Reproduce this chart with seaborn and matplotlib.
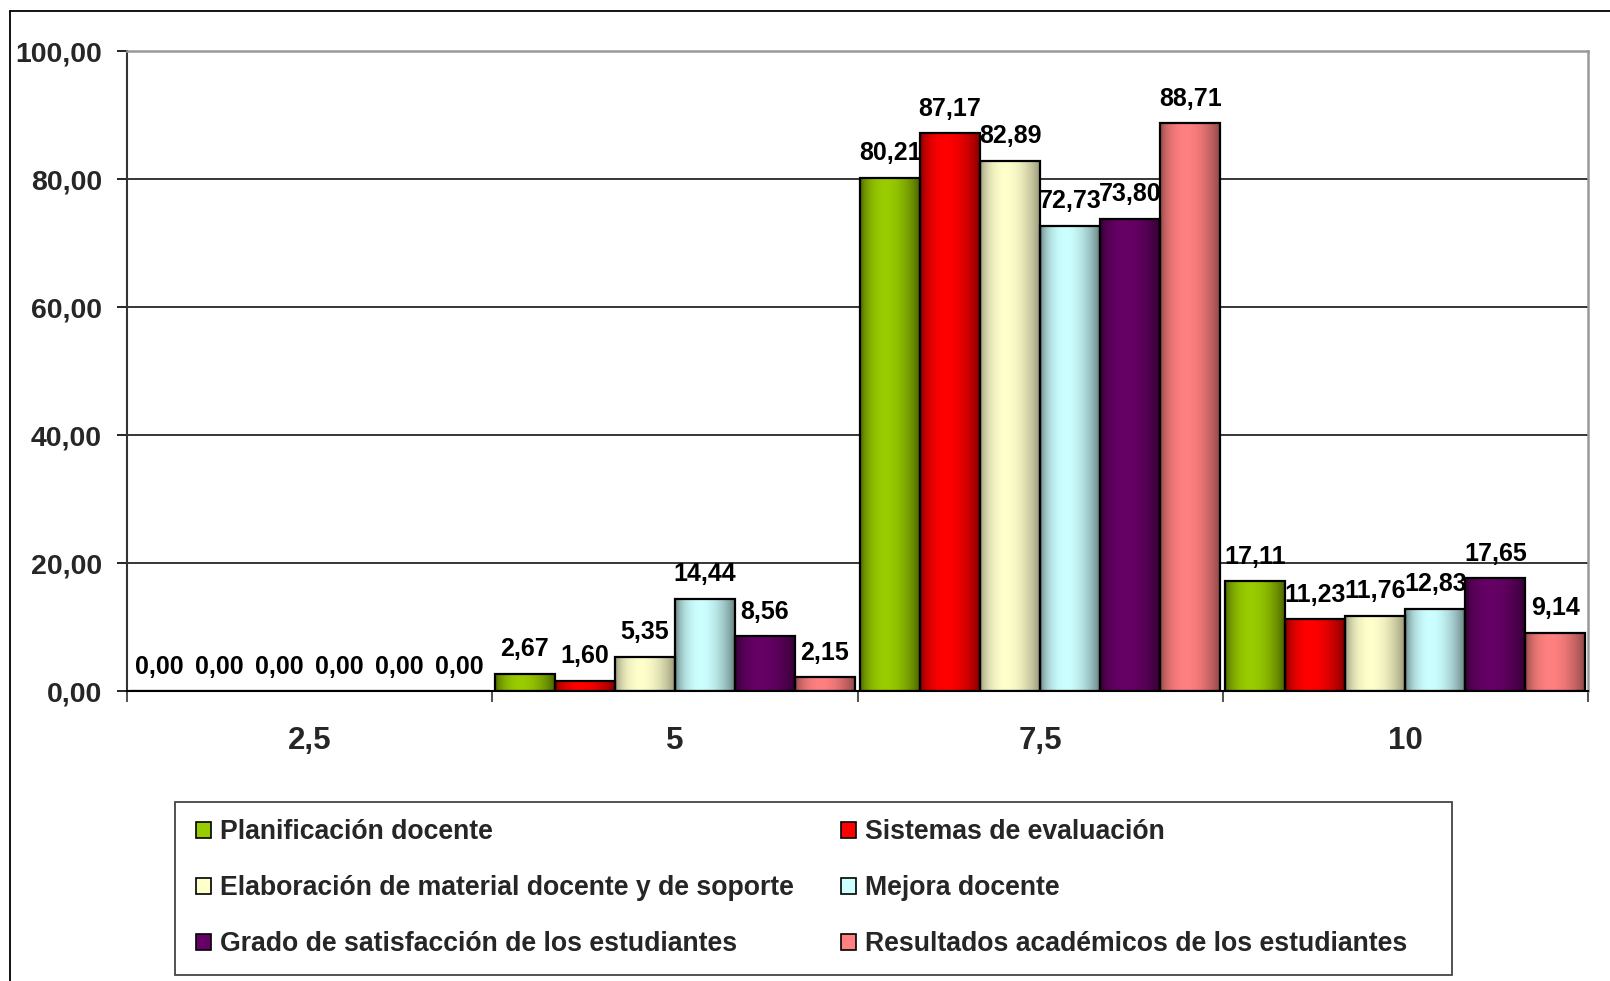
import numpy as np
import pandas as pd
import matplotlib
matplotlib.use("Agg")
import matplotlib.pyplot as plt
import seaborn as sns
from matplotlib.patches import Patch, Rectangle
from matplotlib.lines import Line2D
from matplotlib.ticker import FuncFormatter, FixedLocator
import matplotlib.colors as mcolors

# ---- data ----
categories = ["2,5", "5", "7,5", "10"]
series = ["Planificación docente", "Sistemas de evaluación",
          "Elaboración de material docente y de soporte", "Mejora docente",
          "Grado de satisfacción de los estudiantes",
          "Resultados académicos de los estudiantes"]
planificacion = [0.00, 2.67, 80.21, 17.11]
sistemas = [0.00, 1.60, 87.17, 11.23]
elaboracion = [0.00, 5.35, 82.89, 11.76]
mejora = [0.00, 14.44, 72.73, 12.83]
grado = [0.00, 8.56, 73.80, 17.65]
resultados = [0.00, 2.15, 88.71, 9.14]
colors = ["#99CC00", "#FF0000", "#FFFFCC", "#CCFFFF", "#660066", "#FF8080"]
dark_factor = [0.42, 0.45, 0.55, 0.45, 0.45, 0.5]

values = [planificacion, sistemas, elaboracion, mejora, grado, resultados]
rows = []
for s, vals in zip(series, values):
    for c, v in zip(categories, vals):
        rows.append({"cat": c, "serie": s, "val": v})
df = pd.DataFrame(rows)

sns.set_theme(style="white")
plt.rcParams["font.family"] = ["Liberation Sans", "DejaVu Sans"]
plt.rcParams["font.weight"] = "bold"

W, H = 1610, 981
fig = plt.figure(figsize=(W / 100, H / 100), dpi=100)
fig.patch.set_facecolor("white")
ax = fig.add_axes([127 / W, 1 - 691 / H, (1588 - 127) / W, (691 - 51) / H])

sns.barplot(data=df, x="cat", y="val", hue="serie", order=categories,
            hue_order=series, palette=colors, saturation=1, width=0.986,
            gap=0, edgecolor="black", linewidth=1.6, legend=False, ax=ax,
            errorbar=None)

# gradient fill on each bar
N = 64
t = np.linspace(0, 1, N)
p = np.log(0.5) / np.log(0.42)
f = np.sin(np.pi * t ** p) ** 0.7
for cont, col, dk in zip(ax.containers, colors, dark_factor):
    base = np.array(mcolors.to_rgb(col))
    dark = base * dk
    grad = dark[None, :] * (1 - f[:, None]) + base[None, :] * f[:, None]
    img = grad[None, :, :]
    for bar in cont.patches:
        x0 = bar.get_x()
        w = bar.get_width()
        h = bar.get_height()
        bar.set_facecolor("none")
        bar.set_zorder(3)
        if h > 0:
            ax.imshow(img, extent=(x0, x0 + w, 0, h), aspect="auto",
                      interpolation="bilinear", zorder=2.5)
    ax.bar_label(cont, fmt=lambda v: f"{v:.2f}".replace(".", ","),
                 padding=9, fontsize=18, fontweight="bold", color="black",
                 zorder=5)

ax.set_xlim(-0.5, 3.5)
ax.set_ylim(0, 100)
ax.set_xlabel("")
ax.set_ylabel("")

# y axis
ax.yaxis.set_major_locator(FixedLocator([0, 20, 40, 60, 80, 100]))
ax.yaxis.set_major_formatter(FuncFormatter(lambda v, _: f"{v:.2f}".replace(".", ",")))
ax.tick_params(axis="y", which="major", length=7, width=1.2, color="black",
               pad=11, labelsize=20.5, left=True)
for lab in ax.get_yticklabels():
    lab.set_fontweight("bold")
ax.grid(axis="y", color="black", linewidth=1.1, zorder=0)
ax.grid(axis="x", visible=False)
ax.set_axisbelow(True)
ygl = ax.get_ygridlines()
ygl[-1].set_visible(False)
ygl[0].set_visible(False)

# x axis
ax.set_xticks(range(len(categories)))
ax.set_xticklabels(categories, fontsize=22.5, fontweight="bold")
ax.set_xticks([-0.5, 0.5, 1.5, 2.5, 3.5], minor=True)
ax.tick_params(axis="x", which="major", length=0, pad=25)
ax.tick_params(axis="x", which="minor", length=8, width=1.2, color="#333333",
               bottom=True)

for side in ["top", "right"]:
    ax.spines[side].set_color("#999999")
    ax.spines[side].set_linewidth(1.8)
ax.spines["left"].set_color("#333333")
ax.spines["left"].set_linewidth(1.5)
ax.spines["bottom"].set_color("black")
ax.spines["bottom"].set_linewidth(1.5)

# outer frame (left and top)
fig.add_artist(Line2D([10 / W, 10 / W], [0, 1 - 11 / H], transform=fig.transFigure,
                      color="black", linewidth=1.3))
fig.add_artist(Line2D([10 / W, 1], [1 - 11 / H, 1 - 11 / H], transform=fig.transFigure,
                      color="black", linewidth=1.3))

# legend box
fig.add_artist(Rectangle((175 / W, 1 - 975 / H), (1452 - 175) / W, (975 - 802) / H,
                         transform=fig.transFigure, facecolor="none",
                         edgecolor="#444444", linewidth=1.3))

handles = []
for col, dk in zip(colors, dark_factor):
    handles.append(Patch(facecolor=col, edgecolor="black", linewidth=1.2))
order = [0, 2, 4, 1, 3, 5]
leg = fig.legend([handles[i] for i in order], [series[i] for i in order],
                 ncol=2, loc="upper left",
                 bbox_to_anchor=(183 / W, 1 - 806 / H), frameon=False,
                 prop={"family": "Liberation Sans", "weight": "bold", "size": 19.2},
                 handlelength=0.55, handleheight=0.55, handletextpad=0.35,
                 labelspacing=1.12, columnspacing=1.75, borderpad=0)

fig.savefig("out.png", dpi=100, facecolor="white")
